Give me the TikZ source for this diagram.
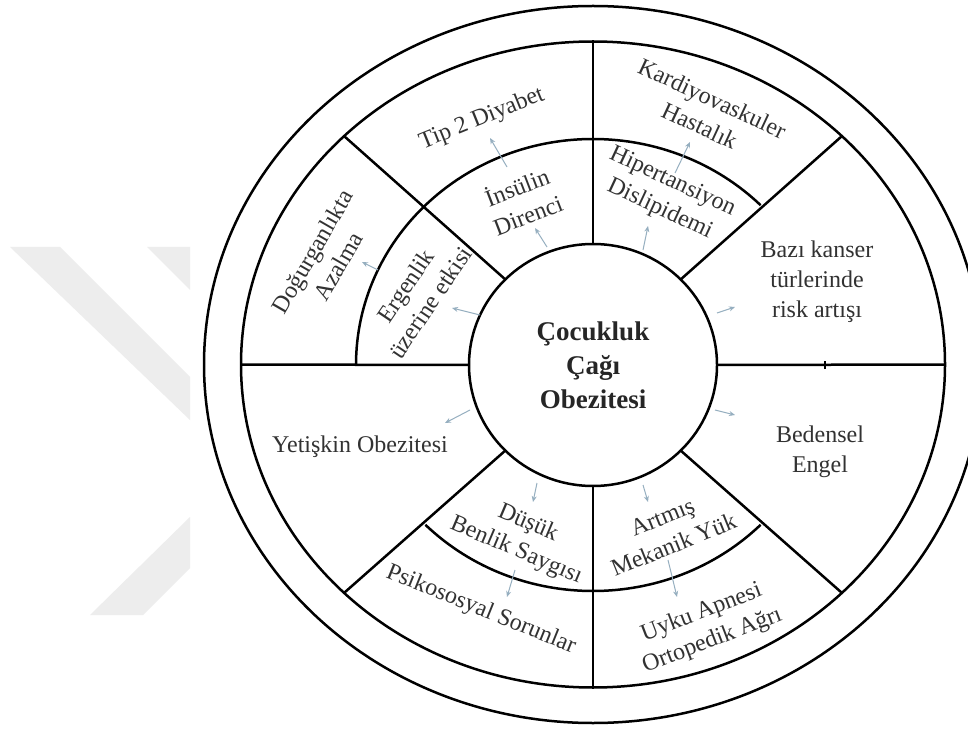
\documentclass[tikz,border=0pt]{standalone}
\usepackage{fontspec}
\setmainfont{Liberation Serif}
\usetikzlibrary{arrows.meta,shapes.geometric}
\definecolor{arrowc}{RGB}{150,175,192}
\definecolor{wmgray}{RGB}{237,237,237}
\definecolor{txtc}{RGB}{50,50,50}
\begin{document}
\begin{tikzpicture}[x=1pt,y=1pt,
  ln/.style={line width=2.5pt, black},
  lbl/.style={text=txtc, align=center, font=\fontsize{24}{30}\selectfont, inner sep=0pt},
  ctr/.style={text=black!85, align=center, font=\fontsize{27}{34}\selectfont\bfseries, inner sep=0pt},
  arr/.style={-{Stealth[length=6pt,width=5pt]}, line width=1pt, draw=arrowc},
  wm/.style={fill=wmgray, draw=none}]
\useasboundingbox (0,0) rectangle (968,729);
\fill[white] (0,0) rectangle (968,729);
\begin{scope}
\clip (0,0) rectangle (968,729);
% watermark
\fill[wm] (10,482) -- (60,482) -- (190,352) -- (190,309) -- cycle;
\fill[wm] (147,482) -- (190,482) -- (190,439) -- cycle;
\fill[wm] (90,114) -- (143,114) -- (190,161) -- (190,212) -- cycle;
% rings
\draw[ln] (593,364.5) ellipse [x radius=389, y radius=358.5];
\draw[ln] (593,364.5) ellipse [x radius=352, y radius=323];
% radial lines
\foreach \a in {0,45,...,315}
  \draw[ln] ({593+124*cos(\a)},{364+121*sin(\a)}) -- ({593+352*cos(\a)},{364.5+323*sin(\a)});
% middle arcs
\draw[ln] (356,364) arc[start angle=180, end angle=45, x radius=237, y radius=226];
\draw[ln] ({593+237*cos(225)},{364+226*sin(225)}) arc[start angle=225, end angle=315, x radius=237, y radius=226];
% small tick
\draw[line width=1.2pt] (825,360) -- (825,368);
% centre
\node[ctr, draw=black, line width=2.5pt, fill=white, ellipse, minimum width=248, minimum height=242] (c) at (593,364) {Çocukluk\\Çağı\\Obezitesi};
% labels
\node[lbl, rotate=22] (tip) at (482,610) {Tip 2 Diyabet};
\node[lbl, rotate=21] (ins) at (522,529) {İnsülin\\Direnci};
\node[lbl, rotate=-25] (kar) at (706,617) {Kardiyovaskuler\\Hastalık};
\node[lbl, rotate=-25] (hip) at (666,533) {Hipertansiyon\\Dislipidemi};
\node[lbl, rotate=60] (dog) at (325,470) {Doğurganlıkta\\Azalma};
\node[lbl, rotate=56] (erg) at (418,435) {Ergenlik\\üzerine etkisi};
\node[lbl] (baz) at (817,447) {Bazı kanser\\türlerinde\\risk artışı};
\node[lbl] (bed) at (820,277) {Bedensel\\Engel};
\node[lbl] (yet) at (360,282) {Yetişkin Obezitesi};
\node[lbl, rotate=-23] (dus) at (522,192) {Düşük\\Benlik Saygısı};
\node[lbl, rotate=-22] (psi) at (481,119) {Psikososyal Sorunlar};
\node[lbl, rotate=22] (art) at (668,198) {Artmış\\Mekanik Yük};
\node[lbl, rotate=21] (uyk) at (707,102) {Uyku Apnesi\\Ortopedik Ağrı};
% arrows
\coordinate (a1s) at (547,482); \coordinate (a1e) at (535,501);
\coordinate (a2s) at (507,562); \coordinate (a2e) at (490,591);
\coordinate (a3s) at (643,479); \coordinate (a3e) at (648,503);
\coordinate (a4s) at (675,556); \coordinate (a4e) at (690,587);
\coordinate (a5s) at (480,414); \coordinate (a5e) at (452,421);
\coordinate (a6s) at (378,459); \coordinate (a6e) at (362,467);
\coordinate (a7s) at (717,416); \coordinate (a7e) at (735,422);
\coordinate (a8s) at (715,319); \coordinate (a8e) at (735,314);
\coordinate (a9s) at (470,319); \coordinate (a9e) at (445,306);
\coordinate (a10s) at (537,246); \coordinate (a10e) at (533,227);
\coordinate (a11s) at (515,159); \coordinate (a11e) at (507,132);
\coordinate (a12s) at (643,244); \coordinate (a12e) at (648,227);
\coordinate (a13s) at (668,169); \coordinate (a13e) at (677,132);
\foreach \i in {1,...,13} \draw[arr] (a\i s) -- (a\i e);
\end{scope}
\end{tikzpicture}
\end{document}
